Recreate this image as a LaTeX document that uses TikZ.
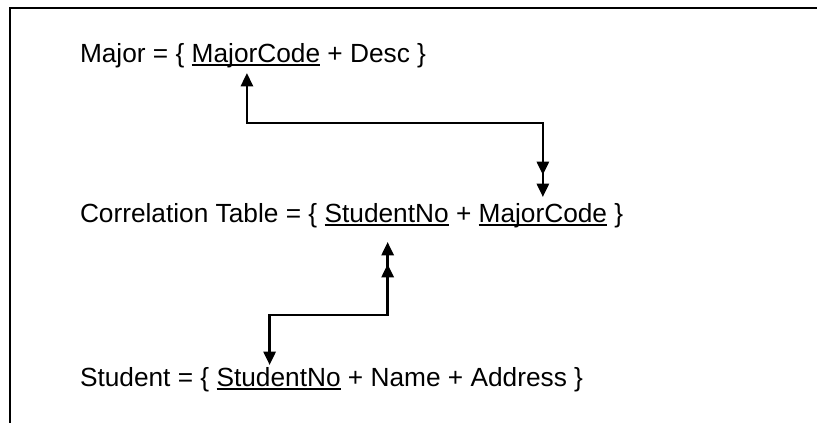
\documentclass[tikz,border=0pt]{standalone}
\usepackage{fontspec}
\setmainfont{Liberation Sans}
\usetikzlibrary{arrows.meta,calc,decorations.markings}
\newsavebox\ulbox
\newcommand\ulword[1]{\sbox\ulbox{#1}\rlap{\rule[-2.4pt]{\wd\ulbox}{1.4pt}}\usebox\ulbox}
\begin{document}
\begin{tikzpicture}[x=0.75pt,y=-0.75pt,
  every node/.style={inner sep=0pt,outer sep=0pt,anchor=base west,font=\fontsize{19.7}{24}\selectfont},
  frame/.style={line width=1.5pt},
  tipshape/.style={},
  link/.style={line width=2pt,{Triangle[length=10pt,width=9pt]}-{Triangle[length=10pt,width=9pt]}},
  dblend/.style={postaction={decorate},decoration={markings,mark=at position -16.5pt with {\arrow{Triangle[length=10pt,width=9pt]}}}}]
\useasboundingbox (0,0) rectangle (817,423);
\draw[frame] (9.5,423) -- (9.5,8) -- (817,8);

\node (maj1) at (80,63) {Major = \{\ \mbox{}};
\node (majc) at (maj1.base east) {\ulword{MajorCode}};
\node (maj2) at (majc.base east) {\mbox{}\ + Desc \}};

\node (cor1) at (80,223) {Correlation Table = \{\ \mbox{}};
\node (corsn) at (cor1.base east) {\ulword{StudentNo}};
\node (cor2) at (corsn.base east) {\mbox{}\ +\ \mbox{}};
\node (cormc) at (cor2.base east) {\ulword{MajorCode}};
\node (cor3) at (cormc.base east) {\mbox{}\ \}};

\node (stu1) at (80,387) {Student = \{\ \mbox{}};
\node (stusn) at (stu1.base east) {\ulword{StudentNo}};
\node (stu2) at (stusn.base east) {\mbox{}\ + Name + Address \}};

\draw[link,dblend] ($(majc.base)+(-9,10)$) -- ++(0,50) -| ($(cormc.base)+(0,-26)$);
\draw[link,dblend] ($(stusn.base)+(-9,-22)$) -- ++(0,-50) -| ($(corsn.base)+(1,19)$);
\end{tikzpicture}
\end{document}
